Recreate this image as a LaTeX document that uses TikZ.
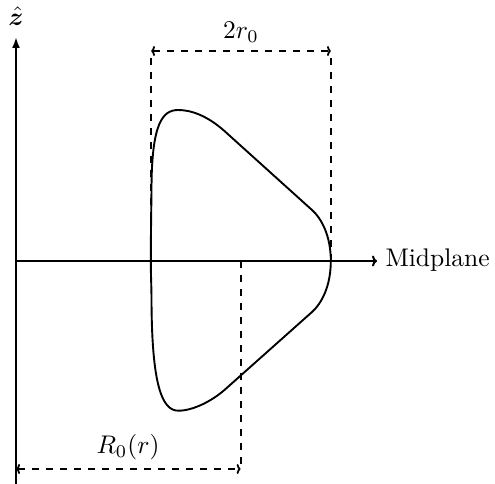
\documentclass[tikz,border=0pt]{standalone}
\usepackage{bm}
\usetikzlibrary{arrows.meta}
\begin{document}
\begin{tikzpicture}[x=1pt,y=-1pt,
  lw/.style={line width=2pt},
  dimline/.style={line width=1.8pt,dash pattern=on 7pt off 7pt},
  lbl/.style={scale=2.55,inner sep=0pt}]
\useasboundingbox (0,0) rectangle (495,484);
% axes
\coordinate (zbot) at (16,484);
\coordinate (ztop) at (16,37);
\coordinate (mleft) at (16,261);
\coordinate (mright) at (377,261);
\draw[lw,-{Latex[length=11pt,width=8pt]}] (zbot) -- (ztop);
\draw[lw,-{To[length=5pt,width=11pt]}] (mleft) -- (mright);
\node[lbl] (zlab) at (16,16) {$\hat{\bm z}$};
\node[lbl,anchor=base west] (mid) at (385,266) {Midplane};
% flux surface
\draw[line width=1.9pt,line join=round]
  (330.8,261) .. controls (330.8,236) and (321.7,218.7) .. (312,210)
  -- (225,131.5)
  .. controls (206.4,114.8) and (190,110) .. (178.3,110)
  .. controls (163,110) and (151.5,122) .. (151.5,190)
  .. controls (151.2,215) and (150.8,240) .. (150.8,261)
  .. controls (150.8,275) and (151.5,287) .. (151.5,300)
  .. controls (151.8,385) and (162,410.7) .. (178.3,410.7)
  .. controls (193,410.7) and (212,401) .. (225,389.5)
  -- (312,312)
  .. controls (321.7,303.3) and (330.8,286) .. cycle;
% 2 r0
\coordinate (a1) at (151,51);
\coordinate (a2) at (331,51);
\coordinate (a1b) at (151,261);
\coordinate (a2b) at (331,261);
\draw[dimline] (a1b) -- (a1);
\draw[dimline] (a2b) -- (a2);
\draw[dimline,{To[length=4pt,width=10pt]}-{To[length=4pt,width=10pt]}] (a1) -- (a2);
\node[lbl] (tworo) at (241,32) {$2r_0$};
% R0(r)
\coordinate (b0) at (240.7,261);
\coordinate (b1) at (240.7,469);
\coordinate (b2) at (16,469);
\draw[dimline] (b0) -- (b1);
\draw[dimline,{To[length=4pt,width=10pt]}-{To[length=4pt,width=10pt]}] (b2) -- (b1);
\node[lbl] (R0) at (128,447) {$R_0(r)$};
\end{tikzpicture}
\end{document}
